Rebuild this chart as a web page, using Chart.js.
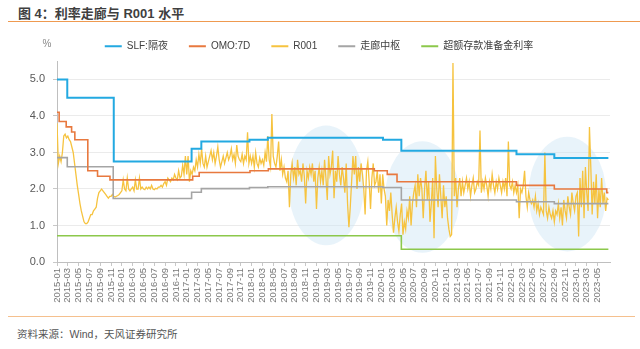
<!DOCTYPE html>
<html>
<head>
<meta charset="utf-8">
<script src="https://cdn.jsdelivr.net/npm/chart.js@4.4.1/dist/chart.umd.min.js"></script>
<style>
  body { margin: 0; width: 640px; height: 349px; background: #fff; position: relative; overflow: hidden;
         font-family: "Liberation Sans", "Noto Sans CJK SC", sans-serif; }
  #title { position: absolute; left: 8px; right: 0; top: 0; height: 21px; border-bottom: 1.5px solid #ef9a50; }
  #title span { position: absolute; left: 10px; top: 3px; font-size: 13px; font-weight: bold; color: #3f3f3f; }
  #box { position: absolute; left: 0; top: 24px; width: 640px; height: 290px; }
  #foot { position: absolute; left: 8px; right: 5px; top: 316px; border-top: 1.5px solid #f5c08e; }
  #foot span { position: absolute; left: 9px; top: 9px; font-size: 10.5px; color: #555; }
</style>
</head>
<body>
<div id="title"><span>图 4：利率走廊与 R001 水平</span></div>
<div id="box"><canvas id="chart"></canvas></div>
<div id="foot"><span>资料来源：Wind，天风证券研究所</span></div>
<script>
// x 轴以月份计，0 = 2015-01
const tickLabels = [
  '2015-01','2015-03','2015-05','2015-07','2015-09','2015-11',
  '2016-01','2016-03','2016-05','2016-07','2016-09','2016-11',
  '2017-01','2017-03','2017-05','2017-07','2017-09','2017-11',
  '2018-01','2018-03','2018-05','2018-07','2018-09','2018-11',
  '2019-01','2019-03','2019-05','2019-07','2019-09','2019-11',
  '2020-01','2020-03','2020-05','2020-07','2020-09','2020-11',
  '2021-01','2021-03','2021-05','2021-07','2021-09','2021-11',
  '2022-01','2022-03','2022-05','2022-07','2022-09','2022-11',
  '2023-01','2023-03','2023-05'
];

// 政策利率：调整时点(月) 与 利率(%)
const slfStart = [0, 1.9, 10.5, 24.9, 26.7, 35.6, 39, 60.3, 63.7, 85, 92, 102];
const slfRate  = [5.0, 4.5, 2.75, 3.1, 3.3, 3.35, 3.4, 3.35, 3.05, 2.95, 2.85, 2.85];

const omoStart = [0, 0.4, 1.7, 2.7, 3.3, 5.7, 7.5, 9.8, 25.1, 26.3, 35.7, 39.1, 58.7, 61.1, 62.9, 85, 92, 101.7, 102];
const omoRate  = [4.1, 3.85, 3.7, 3.56, 3.35, 2.5, 2.35, 2.25, 2.35, 2.45, 2.5, 2.55, 2.5, 2.4, 2.2, 2.1, 2.0, 1.9, 1.9];

const midStart = [0, 1.9, 10.4, 24.9, 26.7, 35.6, 39, 60.3, 63.7, 85, 92, 102];
const midRate  = [2.86, 2.61, 1.74, 1.91, 2.01, 2.04, 2.06, 2.04, 1.7, 1.65, 1.6, 1.6];

const excessStart = [0, 63.7, 102];
const excessRate  = [0.72, 0.35, 0.35];

// R001 周度（每月 4 个点）
const r001_2015 = [3.8,2.7,2.9,2.75, 3.0,3.45,3.5,3.4, 3.45,3.35,3.3,3.15, 3.0,2.7,2.4,2.1,
  1.85,1.6,1.4,1.25, 1.1,1.05,1.05,1.1, 1.2,1.3,1.3,1.4, 1.45,1.5,1.75,1.9,
  1.95,2.0,1.95,1.9, 1.85,1.8,1.75,1.8, 1.8,1.85,1.8,1.78, 1.8,1.82,1.85,1.9];
const r001_2016 = [1.95,2.25,2.0,1.95, 2.3,2.0,1.95,2.0, 2.05,1.95,2.25,2.0, 2.0,2.3,2.0,2.05,
  2.0,1.98,2.05,2.0, 2.05,2.0,2.1,2.0, 1.98,2.02,2.0,2.05, 2.05,2.1,2.05,2.15,
  2.2,2.1,2.3,2.25, 2.2,2.3,2.25,2.4, 2.3,2.25,2.5,2.3, 2.35,2.65,2.4,2.9];
const r001_2017 = [2.4,2.9,2.2,2.5, 2.4,2.6,2.5,2.8, 2.6,2.95,2.7,3.1, 2.7,2.6,2.9,2.6,
  2.75,2.9,3.05,2.8, 3.0,2.7,2.9,3.15, 2.8,2.6,2.75,2.9, 2.7,2.85,3.0,2.8,
  2.9,3.1,2.8,2.95, 2.7,3.2,2.9,2.8, 2.75,2.95,2.7,2.9, 2.8,3.55,2.7,2.9];
const r001_2018 = [2.7,2.9,2.6,3.0, 2.7,2.6,2.85,2.7, 2.8,2.65,3.0,2.75, 3.45,2.8,2.6,4.05,
  2.9,2.7,2.6,2.9, 3.3,2.5,2.8,2.4, 2.6,2.3,2.2,2.5, 1.5,2.4,2.7,2.3,
  2.6,2.1,2.8,2.4, 2.5,2.2,2.7,2.35, 1.6,2.5,2.3,2.6, 2.4,2.7,2.2,2.5];
const r001_2019 = [1.45,2.3,2.6,2.2, 2.5,2.1,2.8,2.3, 1.7,2.9,2.4,2.6, 3.05,1.75,2.5,2.2,
  2.9,2.4,2.1,2.6, 2.3,1.9,2.7,1.6, 0.95,1.5,2.2,2.9, 2.4,2.9,2.0,2.6,
  2.2,2.7,2.4,2.0, 1.3,2.5,2.75,2.2, 1.45,2.3,2.7,2.1, 2.2,2.5,1.9,2.4];
const r001_2020 = [1.6,2.4,2.0,1.8, 1.0,1.7,1.4,1.9, 1.3,0.8,1.2,1.5, 1.1,0.85,1.3,1.6,
  0.75,1.1,0.9,1.4, 1.2,1.8,1.0,1.6, 1.9,2.1,1.5,2.4, 1.8,2.3,2.0,1.2,
  2.0,2.5,1.7,2.2, 1.1,1.6,2.3,0.65, 2.9,2.0,1.5,2.4, 1.8,1.2,2.1,1.5];
const r001_2021 = [1.8,1.2,0.9,0.7, 0.75,5.45,1.8,2.3, 1.5,2.0,2.3,1.8, 2.2,1.9,2.1,2.3,
  2.0,2.2,1.8,2.1, 2.3,1.9,2.0,2.2, 2.1,3.6,1.9,2.2, 2.0,2.3,2.1,1.8,
  2.2,2.0,2.4,2.1, 1.9,2.2,2.0,2.3, 2.1,1.9,2.2,2.0, 2.3,1.8,3.3,2.1];
const r001_2022 = [2.0,2.2,1.9,2.1, 1.9,2.1,1.2,2.0, 1.9,2.1,2.5,1.8, 1.5,1.9,1.7,1.6,
  1.7,1.5,1.8,1.4, 1.6,1.3,1.5,1.4, 1.3,3.0,1.4,1.2, 1.5,1.3,1.2,1.4,
  1.1,1.4,1.3,1.6, 1.2,1.5,1.0,1.7, 1.4,1.2,1.8,1.5, 1.3,1.9,1.6,1.4];
const r001_2023 = [1.8,1.9,0.7,2.3, 1.5,2.5,1.2,2.6, 1.9,1.4,3.7,2.6, 1.3,2.2,1.6,2.4,
  1.2,2.0,1.5,2.3, 1.6,1.9,1.4,1.75, 1.7];

const r001 = [].concat(r001_2015, r001_2016, r001_2017, r001_2018, r001_2019,
                       r001_2020, r001_2021, r001_2022, r001_2023);

function pairs(xs, ys) {
  return xs.map((x, i) => ({ x: x, y: ys[i] }));
}

// 浅蓝色椭圆标注（数据坐标：中心月份、中心利率、横向半径、纵向半径）
const zones = [
  { m: 49.8, v: 2.1, rm: 7.0, rv: 1.64 },
  { m: 67.6, v: 1.78, rm: 6.9, rv: 1.53 },
  { m: 94.4, v: 1.86, rm: 7.2, rv: 1.57 }
];

const zonePlugin = {
  id: 'zones',
  beforeDatasetsDraw(chart) {
    const ctx = chart.ctx, xs = chart.scales.x, ys = chart.scales.y;
    ctx.save();
    ctx.fillStyle = 'rgba(205,228,243,0.45)';
    zones.forEach(z => {
      const cx = xs.getPixelForValue(z.m), cy = ys.getPixelForValue(z.v);
      const rx = xs.getPixelForValue(z.m + z.rm) - cx;
      const ry = cy - ys.getPixelForValue(z.v + z.rv);
      ctx.beginPath();
      ctx.ellipse(cx, cy, rx, ry, 0, 0, Math.PI * 2);
      ctx.fill();
    });
    ctx.restore();
  }
};

const unitPlugin = {
  id: 'unit',
  afterDraw(chart) {
    const ctx = chart.ctx;
    ctx.save();
    ctx.font = '10px "Liberation Sans", sans-serif';
    ctx.fillStyle = '#888';
    ctx.textAlign = 'center';
    ctx.textBaseline = 'middle';
    ctx.fillText('%', chart.chartArea.left - 10, 20);
    ctx.restore();
  }
};

// 图例项之间留宽一些，但图例整体高度保持紧凑
const legendFitPlugin = {
  id: 'legendFit',
  afterInit(chart) {
    const lg = chart.legend;
    const fit = lg.fit;
    lg.fit = function () { fit.call(this); this.height = 41; };
  }
};

const lineFont = { family: '"Liberation Sans", "Noto Sans CJK SC", sans-serif' };

new Chart(document.getElementById('chart'), {
  type: 'line',
  data: {
    datasets: [
      { label: 'SLF:隔夜', data: pairs(slfStart, slfRate), borderColor: '#23a9e1', backgroundColor: '#23a9e1',
        borderWidth: 2, stepped: true, order: 0 },
      { label: 'OMO:7D', data: pairs(omoStart, omoRate), borderColor: '#e8793f', backgroundColor: '#e8793f',
        borderWidth: 1.6, stepped: true, order: 1 },
      { label: 'R001', data: r001.map((v, i) => ({ x: i / 4, y: v })), borderColor: '#f6c33f', backgroundColor: '#f6c33f',
        borderWidth: 1.3, order: 5 },
      { label: '走廊中枢', data: pairs(midStart, midRate), borderColor: '#a5a5a5', backgroundColor: '#a5a5a5',
        borderWidth: 1.6, stepped: true, order: 2 },
      { label: '超额存款准备金利率', data: pairs(excessStart, excessRate), borderColor: '#8cc84b', backgroundColor: '#8cc84b',
        borderWidth: 1.6, stepped: true, order: 3 }
    ]
  },
  options: {
    responsive: true,
    maintainAspectRatio: false,
    animation: false,
    layout: { padding: { top: -7, right: 30, left: 28, bottom: 0 } },
    elements: { point: { radius: 0 }, line: { tension: 0 } },
    plugins: {
      tooltip: { enabled: false },
      legend: {
        position: 'top',
        labels: {
          boxWidth: 17, boxHeight: 2, padding: 21,
          color: '#404040',
          font: Object.assign({ size: 10 }, lineFont),
          sort: (a, b) => a.datasetIndex - b.datasetIndex,
          generateLabels(chart) {
            const items = Chart.defaults.plugins.legend.labels.generateLabels(chart);
            items.forEach(it => { it.lineWidth = 0; });
            return items;
          }
        }
      },
      subtitle: { display: true, text: ' ', font: { size: 1 }, padding: { top: 0, bottom: 2 }, position: 'top' }
    },
    scales: {
      x: {
        type: 'linear',
        min: 0,
        max: 102.3,
        afterBuildTicks(scale) {
          const out = [];
          for (let i = 0; i < tickLabels.length; i++) out.push({ value: i * 2 });
          scale.ticks = out;
        },
        afterFit(scale) { scale.height = 52; },
        ticks: {
          autoSkip: false, maxRotation: 90, minRotation: 90, padding: 2,
          color: '#777', font: Object.assign({ size: 9.5 }, lineFont),
          callback: v => tickLabels[Math.round(v / 2)]
        },
        grid: { drawOnChartArea: false, drawTicks: true, tickLength: 4, color: '#c8c8c8' },
        border: { color: '#bfbfbf' }
      },
      y: {
        min: 0,
        max: 5.5,
        afterBuildTicks(scale) {
          scale.ticks = scale.ticks.filter(t => Math.abs(t.value - Math.round(t.value)) < 1e-6);
        },
        afterFit(scale) { scale.width = 29; },
        ticks: {
          stepSize: 1, padding: 8,
          color: '#595959', font: Object.assign({ size: 11 }, lineFont),
          callback: v => Number(v).toFixed(1)
        },
        grid: { color: '#ebebeb', tickLength: 4, tickColor: '#c8c8c8' },
        border: { color: '#bfbfbf' }
      }
    }
  },
  plugins: [zonePlugin, unitPlugin, legendFitPlugin]
});
</script>
</body>
</html>
